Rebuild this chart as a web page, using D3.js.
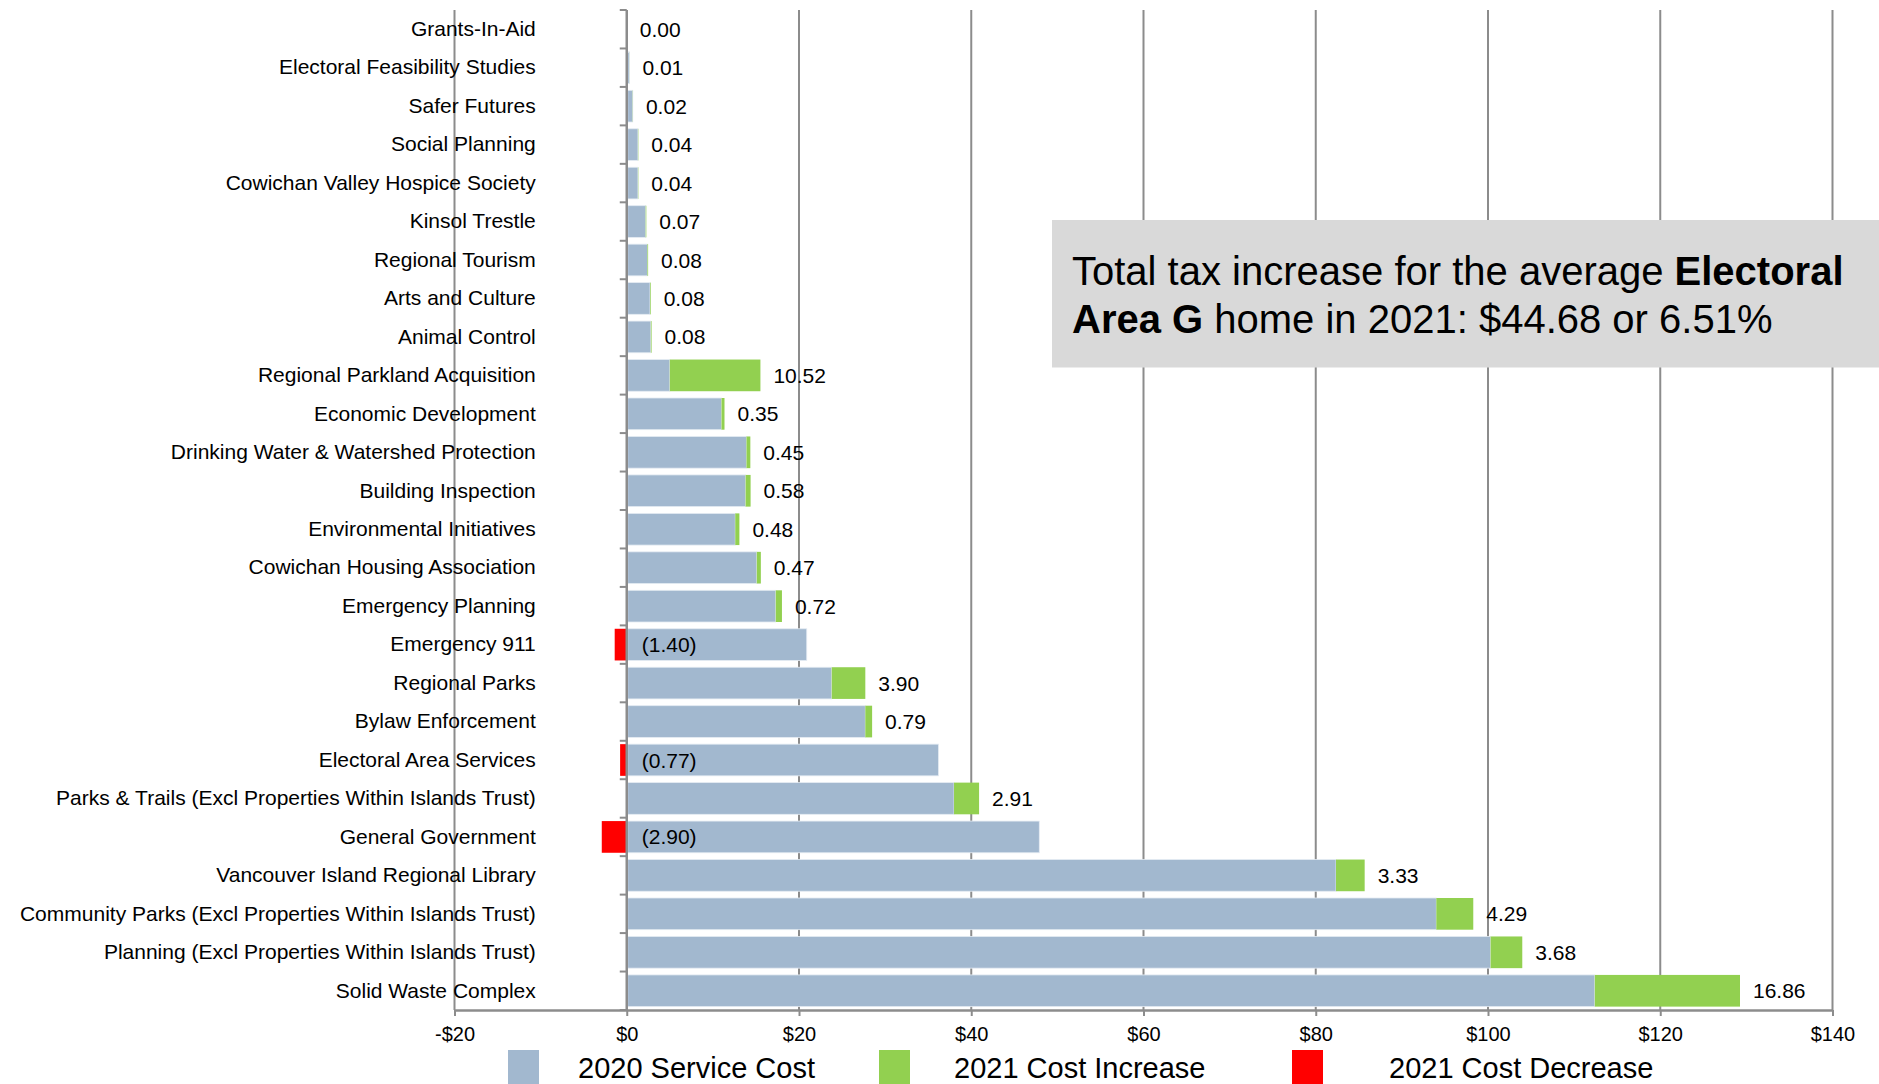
<!DOCTYPE html>
<html>
<head>
<meta charset="utf-8">
<script src="https://cdn.jsdelivr.net/npm/d3@7"></script>
<style>
  html, body { margin: 0; padding: 0; background: #ffffff; }
  svg { display: block; font-family: "Liberation Sans", Arial, sans-serif; }
</style>
</head>
<body>
<svg id="chart" width="1879" height="1084"></svg>
<script>
// ---- Data ----
const categories = [
  "Grants-In-Aid",
  "Electoral Feasibility Studies",
  "Safer Futures",
  "Social Planning",
  "Cowichan Valley Hospice Society",
  "Kinsol Trestle",
  "Regional Tourism",
  "Arts and Culture",
  "Animal Control",
  "Regional Parkland Acquisition",
  "Economic Development",
  "Drinking Water & Watershed Protection",
  "Building Inspection",
  "Environmental Initiatives",
  "Cowichan Housing Association",
  "Emergency Planning",
  "Emergency 911",
  "Regional Parks",
  "Bylaw Enforcement",
  "Electoral Area Services",
  "Parks & Trails (Excl Properties Within Islands Trust)",
  "General Government",
  "Vancouver Island Regional Library",
  "Community Parks (Excl Properties Within Islands Trust)",
  "Planning (Excl Properties Within Islands Trust)",
  "Solid Waste Complex"
];
const cost2020 = [0.0, 0.3, 0.7, 1.3, 1.3, 2.2, 2.4, 2.7, 2.8, 5.0, 11.0, 13.9, 13.8, 12.6, 15.1, 17.3,
                  20.9, 23.8, 27.7, 36.2, 38.0, 47.9, 82.35, 94.0, 100.3, 112.4];
const change2021 = [0.00, 0.01, 0.02, 0.04, 0.04, 0.07, 0.08, 0.08, 0.08, 10.52, 0.35, 0.45, 0.58, 0.48, 0.47, 0.72,
                    -1.40, 3.90, 0.79, -0.77, 2.91, -2.90, 3.33, 4.29, 3.68, 16.86];
const xTicks = [-20, 0, 20, 40, 60, 80, 100, 120, 140];
const seriesNames = ["2020 Service Cost", "2021 Cost Increase", "2021 Cost Decrease"];
const seriesColors = ["#a2b8cf", "#92d050", "#ff0000"];
const noteLine1 = [["Total tax increase for the average ", false], ["Electoral", true]];
const noteLine2 = [["Area G", true], [" home in 2021: $44.68 or 6.51%", false]];

// ---- Layout ----
const svg = d3.select("#chart");
const plotTop = 10, plotBottom = 1010;
const x = d3.scaleLinear().domain([-20, 140]).range([454.5, 1832.5]);
const y = d3.scaleBand().domain(categories).range([plotTop, plotBottom]).paddingInner(0.176).paddingOuter(0.088);
const gridColor = "#8c8c8c";
const rows = categories.map((c, i) => ({ cat: c, base: cost2020[i], chg: change2021[i] }));

// gridlines
svg.append("g").selectAll("line").data(xTicks.filter(d => d !== 0)).join("line")
  .attr("x1", d => x(d)).attr("x2", d => x(d))
  .attr("y1", plotTop).attr("y2", plotBottom)
  .attr("stroke", gridColor).attr("stroke-width", 2);

// bars: 2020 cost
svg.append("g").selectAll("rect").data(rows).join("rect")
  .attr("x", x(0) + 1)
  .attr("y", d => y(d.cat))
  .attr("width", d => Math.max(0, x(d.base) - x(0) - 1))
  .attr("height", y.bandwidth())
  .attr("fill", seriesColors[0])
  .attr("stroke", "#e4ebf3").attr("stroke-width", 0.8);

// increases
svg.append("g").selectAll("rect").data(rows.filter(d => d.chg > 0)).join("rect")
  .attr("x", d => x(d.base))
  .attr("y", d => y(d.cat))
  .attr("width", d => x(d.base + d.chg) - x(d.base))
  .attr("height", y.bandwidth())
  .attr("fill", seriesColors[1]);

// decreases
svg.append("g").selectAll("rect").data(rows.filter(d => d.chg < 0)).join("rect")
  .attr("x", d => x(d.chg))
  .attr("y", d => y(d.cat))
  .attr("width", d => x(0) - x(d.chg))
  .attr("height", y.bandwidth())
  .attr("fill", seriesColors[2]);

// vertical axis at $0 with ticks at category boundaries
const step = y.step();
const gap = step - y.bandwidth();
const bounds = categories.map(c => y(c) - gap / 2).concat([y(categories[categories.length - 1]) + y.bandwidth() + gap / 2]);
const yAxisG = svg.append("g");
yAxisG.append("line").attr("x1", x(0)).attr("x2", x(0)).attr("y1", plotTop).attr("y2", plotBottom)
  .attr("stroke", gridColor).attr("stroke-width", 2.5);
yAxisG.selectAll("line.tk").data(bounds).join("line").attr("class", "tk")
  .attr("x1", x(0) - 7).attr("x2", x(0)).attr("y1", d => d).attr("y2", d => d)
  .attr("stroke", gridColor).attr("stroke-width", 2);

// category labels via axis
const catAxis = svg.append("g").attr("transform", `translate(${x(0)},0)`)
  .call(d3.axisLeft(y).tickSize(0).tickPadding(91));
catAxis.select(".domain").remove();
catAxis.selectAll("text").attr("font-size", 21).attr("fill", "#000")
  .attr("font-family", '"Liberation Sans", Arial, sans-serif');

// x axis
const xAxis = svg.append("g").attr("transform", `translate(0,${plotBottom})`)
  .call(d3.axisBottom(x).tickValues(xTicks).tickSize(6).tickSizeOuter(0).tickPadding(11)
    .tickFormat(d => (d < 0 ? "-$" + (-d) : "$" + d)));
xAxis.select(".domain").attr("stroke", gridColor).attr("stroke-width", 2.5);
xAxis.selectAll(".tick line").attr("stroke", gridColor).attr("stroke-width", 2);
xAxis.selectAll("text").attr("font-size", 20).attr("fill", "#000")
  .attr("font-family", '"Liberation Sans", Arial, sans-serif');

// value labels
svg.append("g").selectAll("text").data(rows).join("text")
  .attr("x", d => d.chg < 0 ? x(0) + 15 : x(d.base + d.chg) + 13)
  .attr("y", d => y(d.cat) + y.bandwidth() / 2 + 7.5)
  .attr("font-size", 21).attr("fill", "#000")
  .text(d => d.chg < 0 ? "(" + d3.format(".2f")(-d.chg) + ")" : d3.format(".2f")(d.chg));

// annotation box
svg.append("rect").attr("x", 1052).attr("y", 220).attr("width", 830).attr("height", 147.5).attr("fill", "#d9d9d9");
const note = svg.append("text").attr("font-size", 40).attr("fill", "#000");
const l1 = note.append("tspan").attr("x", 1072).attr("y", 285);
noteLine1.forEach(([t, b]) => l1.append("tspan").attr("font-weight", b ? "bold" : "normal").text(t));
const l2 = note.append("tspan").attr("x", 1072).attr("y", 333);
noteLine2.forEach(([t, b]) => l2.append("tspan").attr("font-weight", b ? "bold" : "normal").text(t));

// legend
const legendX = [508, 879, 1292];
const legend = svg.append("g").selectAll("g").data(seriesNames).join("g")
  .attr("transform", (d, i) => `translate(${legendX[i]},0)`);
legend.append("rect").attr("x", 0).attr("y", 1050).attr("width", 31).attr("height", 40)
  .attr("fill", (d, i) => seriesColors[i]);
legend.append("text").attr("x", (d, i) => [70, 75, 97][i]).attr("y", 1078)
  .attr("font-size", 29).attr("fill", "#000").text(d => d);
</script>
</body>
</html>
